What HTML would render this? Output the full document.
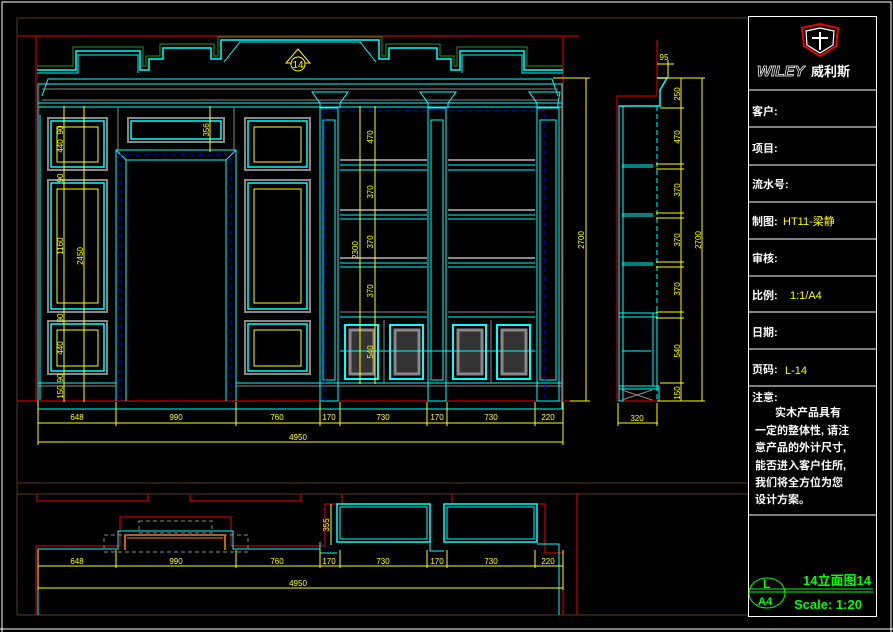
<!DOCTYPE html>
<html><head><meta charset="utf-8"><style>
html,body{margin:0;padding:0;background:#000;}
svg{display:block;}
text{font-family:"Liberation Sans","Noto Sans CJK SC",sans-serif;}
</style></head><body>
<svg width="893" height="632" viewBox="0 0 893 632" xmlns="http://www.w3.org/2000/svg">
<rect width="893" height="632" fill="#000"/>
<!-- outer white border -->
<polyline points="2,632 2,2 891,2 891,632" fill="none" stroke="#fff" stroke-width="1"/>
<line x1="0" y1="629" x2="893" y2="629" stroke="#fff"/>
<!-- brown frame -->
<g stroke="#5a3a1a" fill="none" stroke-width="1">
<line x1="17" y1="18" x2="748" y2="18"/>
<line x1="17" y1="18" x2="17" y2="615"/>
<line x1="17" y1="615" x2="748" y2="615"/>
<line x1="17" y1="483" x2="748" y2="483"/>
<line x1="17" y1="494" x2="748" y2="494"/>
</g>
<!-- title block -->
<g stroke="#fff" fill="none" stroke-width="1">
<rect x="748.5" y="16.5" width="128" height="600"/>
<line x1="748" y1="90" x2="877" y2="90"/>
<line x1="748" y1="127" x2="877" y2="127"/>
<line x1="748" y1="165" x2="877" y2="165"/>
<line x1="748" y1="202" x2="877" y2="202"/>
<line x1="748" y1="239" x2="877" y2="239"/>
<line x1="748" y1="276" x2="877" y2="276"/>
<line x1="748" y1="312" x2="877" y2="312"/>
<line x1="748" y1="349" x2="877" y2="349"/>
<line x1="748" y1="386" x2="877" y2="386"/>
<line x1="748" y1="515" x2="877" y2="515"/>
</g>
<!-- logo -->
<path d="M802,28 L820,24 L838,28 L836,46 L820,56 L804,46 Z" fill="#000" stroke="#e00" stroke-width="2"/>
<path d="M806,31 L820,28 L834,31 L833,45 L820,53 L807,45 Z" fill="none" stroke="#fff" stroke-width="1.2"/>
<line x1="820" y1="32" x2="820" y2="50" stroke="#fff" stroke-width="2"/>
<line x1="812" y1="38" x2="828" y2="38" stroke="#fff" stroke-width="2"/>
<text x="757" y="76" fill="none" stroke="#fff" stroke-width="0.7" font-size="15" font-style="italic" font-weight="bold">WILEY</text>
<text x="811" y="76" fill="#fff" font-size="13" font-weight="bold">威利斯</text>
<g fill="#fff" font-size="11" font-weight="bold">
<text x="752" y="115">客户:</text>
<text x="752" y="152">项目:</text>
<text x="752" y="188">流水号:</text>
<text x="752" y="225">制图:</text>
<text x="752" y="262">审核:</text>
<text x="752" y="299">比例:</text>
<text x="752" y="336">日期:</text>
<text x="752" y="373">页码:</text>
<text x="752" y="401">注意:</text>
<text x="775" y="416">实木产品具有</text>
<text x="755" y="434">一定的整体性, 请注</text>
<text x="755" y="451">意产品的外计尺寸,</text>
<text x="755" y="469">能否进入客户住所,</text>
<text x="755" y="486">我们将全方位为您</text>
<text x="755" y="503">设计方案。</text>
</g>
<g fill="#ff0" font-size="11" font-family="Liberation Serif">
<text x="783" y="225" font-family="Liberation Serif,Noto Serif CJK SC,serif">HT11-梁静</text>
<text x="790" y="299">1:1/A4</text>
<text x="785" y="374">L-14</text>
</g>
<ellipse cx="767" cy="593" rx="18" ry="15" fill="none" stroke="#0f0"/>
<line x1="749" y1="592" x2="873" y2="592" stroke="#0f0"/>
<line x1="749" y1="589" x2="873" y2="589" stroke="#0f0"/>
<g fill="#0f0" font-family="Liberation Serif,Noto Serif CJK SC,serif" font-weight="bold">
<text x="763" y="588" font-size="12">L</text>
<text x="758" y="605" font-size="11">A4</text>
<text x="803" y="585" font-size="13">14立面图14</text>
<text x="794" y="609" font-size="13">Scale: 1:20</text>
</g>

<!-- ===== MAIN ELEVATION ===== -->
<g stroke="#e00" fill="none" stroke-width="1">
<line x1="17" y1="36" x2="579" y2="36"/>
<line x1="36" y1="36" x2="36" y2="401"/>
<line x1="563" y1="36" x2="563" y2="401"/>
<line x1="17" y1="401" x2="579" y2="401"/>
</g>
<!-- crown -->
<polyline points="37,66 73,66 73,47 143,47 143,66 146,66 146,56 160,56 160,44 214,44 214,56 218,56 218,37 382,37 382,56 386,56 386,44 440,44 440,56 454,56 454,66 457,66 457,47 527,47 527,66 563,66" fill="none" stroke="#1a7a1a" stroke-width="1.2"/>
<polyline points="37,70 76,70 76,51 140,51 140,70 149,70 149,59 163,59 163,48 211,48 211,59 221,59 221,40 379,40 379,59 389,59 389,48 437,48 437,59 451,59 451,70 460,70 460,51 524,51 524,70 563,70" fill="none" stroke="#0ff" stroke-width="1.5"/>
<polyline points="37,73 78,73 78,55 138,55 138,73" fill="none" stroke="#0ff"/>
<polyline points="462,73 462,55 522,55 522,73 563,73" fill="none" stroke="#0ff"/>
<polyline points="224,62 240,42 360,42 376,62" fill="none" stroke="#0ff"/>
<polygon points="298,49 286,63 310,63" fill="none" stroke="#ff0"/>
<circle cx="298" cy="64" r="7" fill="#000" stroke="#ff0"/>
<text x="298" y="68" fill="#ff0" font-size="10" text-anchor="middle" font-family="Liberation Serif">14</text>
<!-- cornice -->
<g stroke="#0ff" fill="none">
<polyline points="42,96 48,79 552,79 558,96"/>
<line x1="38" y1="103" x2="562" y2="103"/>
<line x1="38" y1="107" x2="562" y2="107"/>
<rect x="38" y="84" width="524" height="325" fill="none"/>
</g>
<g stroke="#888" fill="none">
<line x1="42" y1="89" x2="558" y2="89"/>
<line x1="42" y1="100" x2="558" y2="100"/>
</g>
<!-- left panels -->
<g fill="none">
<rect x="48" y="118" width="59" height="52" stroke="#888" stroke-width="2"/>
<rect x="51" y="121" width="53" height="46" stroke="#0ff" stroke-width="1.5"/>
<rect x="57" y="127" width="41" height="35" stroke="#ff0"/>
<rect x="48" y="180" width="59" height="132" stroke="#888" stroke-width="2"/>
<rect x="51" y="183" width="53" height="126" stroke="#0ff" stroke-width="1.5"/>
<rect x="57" y="189" width="41" height="114" stroke="#ff0"/>
<rect x="48" y="321" width="59" height="53" stroke="#888" stroke-width="2"/>
<rect x="51" y="324" width="53" height="47" stroke="#0ff" stroke-width="1.5"/>
<rect x="57" y="330" width="41" height="36" stroke="#ff0"/>
<!-- right panels -->
<rect x="245" y="118" width="65" height="52" stroke="#888" stroke-width="2"/>
<rect x="248" y="121" width="59" height="46" stroke="#0ff" stroke-width="1.5"/>
<rect x="254" y="127" width="47" height="35" stroke="#ff0"/>
<rect x="245" y="180" width="65" height="132" stroke="#888" stroke-width="2"/>
<rect x="248" y="183" width="59" height="126" stroke="#0ff" stroke-width="1.5"/>
<rect x="254" y="189" width="47" height="114" stroke="#ff0"/>
<rect x="245" y="321" width="65" height="53" stroke="#888" stroke-width="2"/>
<rect x="248" y="324" width="59" height="47" stroke="#0ff" stroke-width="1.5"/>
<rect x="254" y="330" width="47" height="36" stroke="#ff0"/>
<!-- transom -->
<rect x="128" y="118" width="96" height="24" stroke="#888" stroke-width="2"/>
<rect x="131" y="121" width="90" height="18" stroke="#0ff" stroke-width="1.5"/>
<line x1="118" y1="108" x2="118" y2="150" stroke="#888"/>
<line x1="234" y1="108" x2="234" y2="150" stroke="#888"/>
<!-- door -->
<polyline points="116,401 116,150 236,150 236,401" stroke="#0ff"/>
<polyline points="126,401 126,160 226,160 226,401" stroke="#0ff"/>
<line x1="116" y1="150" x2="126" y2="160" stroke="#0ff"/>
<line x1="236" y1="150" x2="226" y2="160" stroke="#0ff"/>
<polyline points="120,401 120,155 231,155 231,401" stroke="#00f" stroke-dasharray="5,4"/>
<!-- base -->
<line x1="38" y1="383" x2="116" y2="383" stroke="#0ff"/>
<line x1="236" y1="383" x2="562" y2="383" stroke="#0ff"/>
<line x1="38" y1="386" x2="116" y2="386" stroke="#888"/>
<line x1="236" y1="386" x2="562" y2="386" stroke="#888"/>
<line x1="38" y1="109" x2="38" y2="401" stroke="#0ff"/>
<line x1="40" y1="115" x2="40" y2="400" stroke="#0ff"/>
<!-- columns -->
<g stroke="#0ff">
<polyline points="320,108 320,103 312,92 348,92 340,103 340,108"/>
<rect x="320" y="108" width="18" height="293"/>
<rect x="323" y="120" width="12" height="260"/>
<polyline points="428,108 428,103 420,92 456,92 448,103 448,108"/>
<rect x="428" y="108" width="18" height="293"/>
<rect x="431" y="120" width="12" height="260"/>
<polyline points="537,108 537,103 529,92 560,92 558,103 558,108"/>
<rect x="537" y="108" width="22" height="293"/>
<rect x="540" y="120" width="16" height="260"/>
</g>
<polyline points="325,401 325,111 545,111 545,401" stroke="#00f" stroke-dasharray="5,4"/>
<!-- shelves -->
<g stroke="#888">
<line x1="340" y1="160" x2="427" y2="160" stroke-width="2"/>
<line x1="340" y1="210" x2="427" y2="210" stroke-width="2"/>
<line x1="340" y1="258" x2="427" y2="258" stroke-width="2"/>
<line x1="448" y1="160" x2="535" y2="160" stroke-width="2"/>
<line x1="448" y1="210" x2="535" y2="210" stroke-width="2"/>
<line x1="448" y1="258" x2="535" y2="258" stroke-width="2"/>
<line x1="340" y1="312" x2="427" y2="312"/>
<line x1="448" y1="312" x2="535" y2="312"/>
</g>
<g stroke="#0ff">
<line x1="340" y1="165" x2="427" y2="165"/><line x1="340" y1="170" x2="427" y2="170"/>
<line x1="340" y1="215" x2="427" y2="215"/><line x1="340" y1="219" x2="427" y2="219"/>
<line x1="340" y1="263" x2="427" y2="263"/><line x1="340" y1="267" x2="427" y2="267"/>
<line x1="448" y1="165" x2="535" y2="165"/><line x1="448" y1="170" x2="535" y2="170"/>
<line x1="448" y1="215" x2="535" y2="215"/><line x1="448" y1="219" x2="535" y2="219"/>
<line x1="448" y1="263" x2="535" y2="263"/><line x1="448" y1="267" x2="535" y2="267"/>
<line x1="340" y1="317" x2="427" y2="317"/><line x1="448" y1="317" x2="535" y2="317"/>
</g>
<!-- cabinet doors -->
<g fill="none">
<rect x="345" y="325" width="33" height="54" stroke="#0ff" stroke-width="2"/>
<rect x="350" y="330" width="24" height="44" stroke="#888" stroke-width="3" fill="#333"/>
<rect x="390" y="325" width="33" height="54" stroke="#0ff" stroke-width="2"/>
<rect x="395" y="330" width="24" height="44" stroke="#888" stroke-width="3" fill="#333"/>
<rect x="453" y="325" width="33" height="54" stroke="#0ff" stroke-width="2"/>
<rect x="458" y="330" width="24" height="44" stroke="#888" stroke-width="3" fill="#333"/>
<rect x="497" y="325" width="33" height="54" stroke="#0ff" stroke-width="2"/>
<rect x="502" y="330" width="24" height="44" stroke="#888" stroke-width="3" fill="#333"/>
<line x1="340" y1="351" x2="535" y2="351" stroke="#0ff"/>
<line x1="384" y1="320" x2="384" y2="383" stroke="#888"/>
<line x1="491" y1="320" x2="491" y2="383" stroke="#888"/>
</g>
</g>
<!-- dimensions main -->
<g stroke="#ff0" fill="none">
<line x1="38" y1="423" x2="563" y2="423"/>
<line x1="38" y1="442" x2="563" y2="442"/>
<line x1="38" y1="402" x2="38" y2="445"/>
<line x1="116" y1="402" x2="116" y2="426"/>
<line x1="236" y1="402" x2="236" y2="426"/>
<line x1="320" y1="402" x2="320" y2="426"/>
<line x1="340" y1="402" x2="340" y2="426"/>
<line x1="427" y1="402" x2="427" y2="426"/>
<line x1="447" y1="402" x2="447" y2="426"/>
<line x1="535" y1="402" x2="535" y2="426"/>
<line x1="563" y1="402" x2="563" y2="445"/>
<line x1="64" y1="106" x2="64" y2="402"/>
<line x1="84" y1="106" x2="84" y2="402"/>
<line x1="210" y1="106" x2="210" y2="152"/>
<line x1="360" y1="106" x2="360" y2="384"/>
<line x1="375" y1="106" x2="375" y2="384"/>
<line x1="586" y1="78" x2="586" y2="401"/>
<line x1="553" y1="78" x2="590" y2="78"/>
<line x1="570" y1="401" x2="590" y2="401"/>
</g>
<g fill="#ff0" font-size="8" font-family="Liberation Sans Narrow,Liberation Sans,sans-serif" text-anchor="middle">
<text x="77" y="420">648</text><text x="176" y="420">990</text><text x="277" y="420">760</text>
<text x="329" y="420">170</text><text x="383" y="420">730</text><text x="437" y="420">170</text>
<text x="491" y="420">730</text><text x="548" y="420">220</text>
<text x="298" y="440">4950</text>
<g transform="rotate(-90)">
<text x="-130" y="63">90</text><text x="-146" y="63">440</text><text x="-178" y="63">90</text>
<text x="-246" y="63">1160</text><text x="-318" y="63">90</text><text x="-348" y="63">440</text>
<text x="-378" y="63">90</text><text x="-392" y="63">150</text>
<text x="-256" y="83">2450</text><text x="-130" y="209">356</text>
<text x="-137" y="373">470</text><text x="-192" y="373">370</text><text x="-242" y="373">370</text>
<text x="-291" y="373">370</text><text x="-352" y="373">540</text><text x="-250" y="358">2300</text>
<text x="-240" y="584">2700</text>
</g>
</g>

<!-- ===== SIDE SECTION ===== -->
<g fill="none">
<polyline points="617,401 617,96 657,96 657,40" stroke="#e00"/>
<line x1="617" y1="401" x2="668" y2="401" stroke="#e00"/>
<rect x="619" y="106" width="4" height="295" stroke="#0ff"/>
<polyline points="657,78 667,78 660,90 660,106 619,106" stroke="#0ff" stroke-width="1.5"/>
<line x1="657" y1="106" x2="657" y2="401" stroke="#0ff" stroke-dasharray="5,3"/>
<g stroke="#0ff">
<line x1="622" y1="165" x2="653" y2="165"/><line x1="622" y1="167" x2="653" y2="167"/>
<line x1="622" y1="214" x2="653" y2="214"/><line x1="622" y1="216" x2="653" y2="216"/>
<line x1="622" y1="263" x2="653" y2="263"/><line x1="622" y1="265" x2="653" y2="265"/>
<line x1="619" y1="313" x2="657" y2="313"/><line x1="619" y1="317" x2="657" y2="317"/>
<line x1="622" y1="351" x2="651" y2="351"/>
<rect x="653" y="313" width="4" height="73"/>
<line x1="619" y1="386" x2="659" y2="386"/><line x1="619" y1="389" x2="659" y2="389"/>
<line x1="659" y1="386" x2="659" y2="401"/>
</g>
<path d="M622,390 L652,400 M622,400 L652,390" stroke="#888"/>
</g>
<g stroke="#ff0" fill="none">
<line x1="681" y1="78" x2="681" y2="401"/>
<line x1="702" y1="78" x2="702" y2="401"/>
<line x1="657" y1="78" x2="705" y2="78"/>
<line x1="660" y1="108" x2="684" y2="108"/>
<line x1="656" y1="164" x2="684" y2="164"/><line x1="656" y1="169" x2="684" y2="169"/>
<line x1="656" y1="213" x2="684" y2="213"/><line x1="656" y1="218" x2="684" y2="218"/>
<line x1="656" y1="262" x2="684" y2="262"/><line x1="656" y1="267" x2="684" y2="267"/>
<line x1="656" y1="312" x2="684" y2="312"/><line x1="656" y1="318" x2="684" y2="318"/>
<line x1="660" y1="383" x2="684" y2="383"/>
<line x1="657" y1="401" x2="705" y2="401"/>
<line x1="618" y1="423" x2="658" y2="423"/>
<line x1="618" y1="403" x2="618" y2="426"/><line x1="657" y1="403" x2="657" y2="426"/>
<line x1="657" y1="64" x2="674" y2="64"/><line x1="668" y1="60" x2="668" y2="78"/>
</g>
<g fill="#ff0" font-size="8" font-family="Liberation Sans" text-anchor="middle">
<text x="637" y="421">320</text>
<text x="664" y="60">95</text>
<g transform="rotate(-90)">
<text x="-94" y="680">250</text><text x="-137" y="680">470</text><text x="-190" y="680">370</text>
<text x="-240" y="680">370</text><text x="-289" y="680">370</text><text x="-351" y="680">540</text>
<text x="-393" y="680">150</text><text x="-240" y="701">2700</text>
</g>
</g>

<!-- ===== PLAN ===== -->
<g fill="none">
<polyline points="37,494 37,501 148,501 148,494" stroke="#e00"/>
<polyline points="190,494 190,501 301,501 301,494" stroke="#e00"/>
<line x1="342" y1="494" x2="342" y2="504" stroke="#e00"/>
<polyline points="452,494 452,504 545,504 545,553 563,553 563,615" stroke="#e00"/>
<line x1="577" y1="494" x2="577" y2="615" stroke="#e00"/>
<polyline points="36,615 36,546 120,546 120,517 231,517 231,546 325,546 325,504 342,504" stroke="#e00"/>
<polyline points="38,553 38,549 118,549 118,531 233,531 233,549 320,549" stroke="#0ff"/>
<polyline points="125,550 125,535 225,535 225,550" stroke="#f80" stroke-width="1.5"/>
<line x1="127" y1="538" x2="223" y2="538" stroke="#f80"/>
<rect x="139" y="521" width="73" height="12" stroke="#888" stroke-dasharray="4,3"/>
<rect x="104" y="535" width="144" height="17" stroke="#888" stroke-dasharray="4,3"/>
<rect x="337" y="504" width="93" height="38" stroke="#0ff" stroke-width="1.5"/>
<rect x="340" y="507" width="87" height="32" stroke="#0ff"/>
<rect x="444" y="504" width="93" height="38" stroke="#0ff" stroke-width="1.5"/>
<rect x="447" y="507" width="87" height="32" stroke="#0ff"/>
<polyline points="320,542 320,553 337,553" stroke="#0ff"/>
<polyline points="430,542 430,551 444,551" stroke="#0ff"/>
<polyline points="537,544 559,544 559,615" stroke="#0ff"/>
<line x1="38" y1="553" x2="38" y2="615" stroke="#0ff"/>
</g>
<g stroke="#ff0" fill="none">
<line x1="38" y1="566" x2="563" y2="566"/>
<line x1="38" y1="588" x2="563" y2="588"/>
<line x1="38" y1="550" x2="38" y2="590"/>
<line x1="116" y1="550" x2="116" y2="568"/><line x1="236" y1="550" x2="236" y2="568"/>
<line x1="320" y1="550" x2="320" y2="568"/><line x1="340" y1="550" x2="340" y2="568"/>
<line x1="427" y1="550" x2="427" y2="568"/><line x1="447" y1="550" x2="447" y2="568"/>
<line x1="535" y1="550" x2="535" y2="568"/><line x1="563" y1="550" x2="563" y2="590"/>
<line x1="331" y1="504" x2="331" y2="545"/>
</g>
<g fill="#ff0" font-size="8" font-family="Liberation Sans" text-anchor="middle">
<text x="77" y="564">648</text><text x="176" y="564">990</text><text x="277" y="564">760</text>
<text x="329" y="564">170</text><text x="383" y="564">730</text><text x="437" y="564">170</text>
<text x="491" y="564">730</text><text x="548" y="564">220</text>
<text x="298" y="586">4950</text>
<text transform="rotate(-90)" x="-525" y="329">355</text>
</g>
</svg>
</body></html>
